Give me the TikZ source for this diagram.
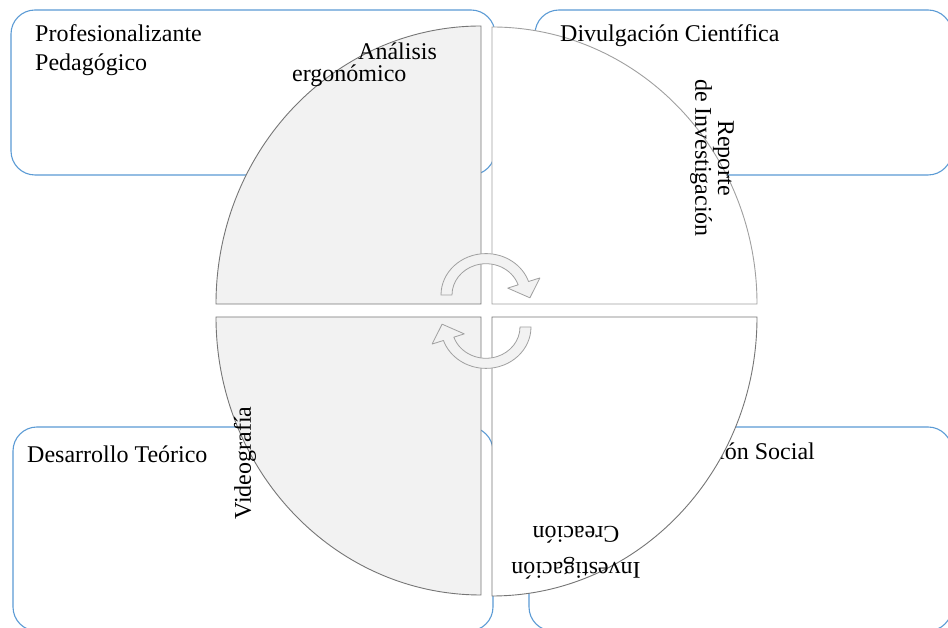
\documentclass[tikz,border=0pt]{standalone}
\usepackage{fontspec}
\setmainfont{Liberation Serif}
\usepackage{tikz}
\definecolor{boxblue}{RGB}{91,155,213}
\definecolor{quadfill}{RGB}{242,242,242}
\definecolor{quadline}{RGB}{118,118,118}
\definecolor{lightline}{RGB}{160,160,160}

\begin{document}
\begin{tikzpicture}[x=1pt,y=1pt,
  modbox/.style={draw=boxblue,line width=1.1pt,rounded corners=24pt},
  sector/.style={draw=quadline,line width=0.9pt},
  cyclearrow/.style={draw=lightline,fill=quadfill,line width=0.8pt,line join=round},
  lbl/.style={inner sep=0pt,font=\fontsize{24}{29}\selectfont}]
\useasboundingbox (0,0) rectangle (948,628);
\fill[white] (0,0) rectangle (948,628);

% the four modalities
\draw[modbox] (11,453) rectangle (495,618);
\draw[modbox] (535,453) rectangle (952,618);
\draw[modbox] (13,201) rectangle (493,-3);
\draw[modbox] (529,201) rectangle (952,-3);
\node[lbl,anchor=base east] (social) at (815,168) {Proyección Social};

% quarters of the circle
\draw[sector,fill=quadfill] (481,324) -- (216,324) arc[start angle=180,end angle=90,x radius=265,y radius=278] -- cycle;
\draw[sector,draw=lightline,fill=white] (492,324) -- (492,601) arc[start angle=90,end angle=0,x radius=265,y radius=277] -- cycle;
\draw[sector,fill=quadfill] (481,311) -- (216,311) arc[start angle=180,end angle=270,x radius=265,y radius=278] -- cycle;
\draw[sector,fill=white] (492,311) -- (757,311) arc[start angle=0,end angle=-90,x radius=265,y radius=279] -- cycle;

% turning arrows
\begin{scope}[shift={(486,333)},yscale=0.92]
\draw[cyclearrow] (180:45) arc[start angle=180,end angle=19,radius=45] -- (19:57) -- (-4:44) -- (19:23) -- (19:34) arc[start angle=19,end angle=180,radius=34] -- cycle;
\end{scope}
\begin{scope}[shift={(486,301)},rotate=180,yscale=0.92]
\draw[cyclearrow] (180:45) arc[start angle=180,end angle=19,radius=45] -- (19:57) -- (-4:44) -- (19:23) -- (19:34) arc[start angle=19,end angle=180,radius=34] -- cycle;
\end{scope}

% labels
\node[lbl,align=left,anchor=base west] (prof) at (35,557) {Profesionalizante\\Pedagógico};
\node[lbl,anchor=base west] (divul) at (560,586) {Divulgación Científica};
\node[lbl,anchor=base west] (desar) at (27,165) {Desarrollo Teórico};
\node[lbl,align=left,anchor=base west,font=\fontsize{24}{22}\selectfont] (analisis) at (292,546) {\hspace*{66pt}Análisis\\ergonómico};
\node[lbl,align=center,rotate=-90,font=\fontsize{24}{21}\selectfont] (reporte) at (712,470) {Reporte\\de Investigación};
\node[lbl,rotate=90] (video) at (245,165) {Videografía};
\node[lbl,align=center,rotate=180,font=\fontsize{24}{36}\selectfont] (invcrea) at (576,75) {Investigación\\Creación};
\end{tikzpicture}
\end{document}
